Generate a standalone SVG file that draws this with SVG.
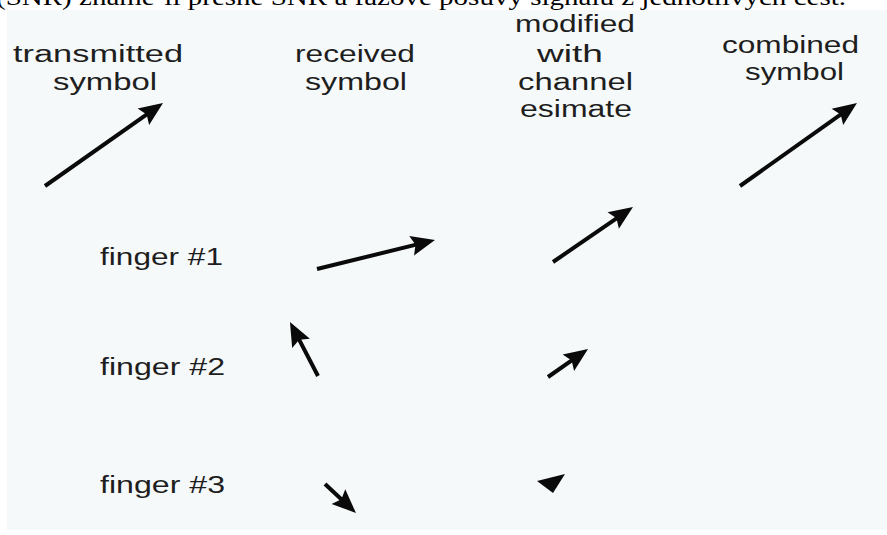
<svg xmlns="http://www.w3.org/2000/svg" width="887" height="535" viewBox="0 0 887 535">
  <style>
    .lbl { font-family: "Liberation Sans", Arial, sans-serif; font-size: 23px; fill: #1e1e1e; }
    .top { font-family: "Liberation Serif", "Times New Roman", serif; font-size: 24px; fill: #000; }
    .arr { stroke: #0a0a0a; stroke-width: 4; fill: none; marker-end: url(#head); }
  </style>
  <defs>
    <marker id="head" markerUnits="userSpaceOnUse" markerWidth="24" markerHeight="20" refX="12" refY="10" orient="auto" overflow="visible">
      <path d="M0,0 L24,10 L0,20 L4,10 z" fill="#0a0a0a"/>
    </marker>
  </defs>
  <rect x="0" y="0" width="887" height="535" fill="#ffffff"/>
  <rect x="7" y="10" width="880" height="520" fill="#f6f9f9"/>
  <text class="top" x="-4" y="5" textLength="850" lengthAdjust="spacingAndGlyphs">(SNR) známe-li přesné SNR a fázové posuvy signálu z jednotlivých cest.</text>

  <g id="col-transmitted">
    <text class="lbl" x="13" y="62" textLength="170" lengthAdjust="spacingAndGlyphs">transmitted</text>
    <text class="lbl" x="53" y="90" textLength="104" lengthAdjust="spacingAndGlyphs">symbol</text>
  </g>
  <g id="col-received">
    <text class="lbl" x="295" y="62" textLength="120" lengthAdjust="spacingAndGlyphs">received</text>
    <text class="lbl" x="305" y="90" textLength="102" lengthAdjust="spacingAndGlyphs">symbol</text>
  </g>
  <g id="col-modified">
    <text class="lbl" x="515" y="32" textLength="120" lengthAdjust="spacingAndGlyphs">modified</text>
    <text class="lbl" x="537" y="62" textLength="66" lengthAdjust="spacingAndGlyphs">with</text>
    <text class="lbl" x="518" y="90" textLength="115" lengthAdjust="spacingAndGlyphs">channel</text>
    <text class="lbl" x="520" y="117" textLength="112" lengthAdjust="spacingAndGlyphs">esimate</text>
  </g>
  <g id="col-combined">
    <text class="lbl" x="722" y="53" textLength="137" lengthAdjust="spacingAndGlyphs">combined</text>
    <text class="lbl" x="745" y="80" textLength="99" lengthAdjust="spacingAndGlyphs">symbol</text>
  </g>
  <g id="finger1">
    <text class="lbl" x="100" y="265" textLength="123" lengthAdjust="spacingAndGlyphs">finger #1</text>
  </g>
  <g id="finger2">
    <text class="lbl" x="100" y="375" textLength="125" lengthAdjust="spacingAndGlyphs">finger #2</text>
  </g>
  <g id="finger3">
    <text class="lbl" x="100" y="493" textLength="125" lengthAdjust="spacingAndGlyphs">finger #3</text>
  </g>

  <g id="vectors">
    <line class="arr" x1="45" y1="186" x2="153.2" y2="109.9"/>
    <line class="arr" x1="740" y1="186" x2="847.2" y2="109.9"/>
    <line class="arr" x1="317" y1="269" x2="423.3" y2="242.9"/>
    <line class="arr" x1="318" y1="376" x2="295.5" y2="332.7"/>
    <line class="arr" x1="325" y1="484" x2="347.2" y2="504.8"/>
    <line class="arr" x1="553" y1="262" x2="623.1" y2="213.8"/>
    <line class="arr" x1="548" y1="377" x2="578.2" y2="355.9"/>
    <polygon points="537,481 565,474 553,493" fill="#0a0a0a"/>
  </g>
</svg>
